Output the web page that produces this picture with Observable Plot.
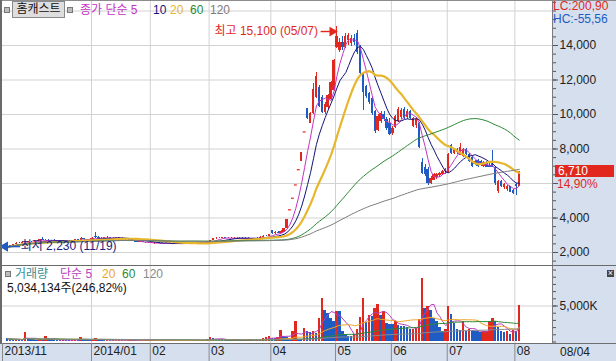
<!DOCTYPE html>
<html><head><meta charset="utf-8">
<script src="https://cdn.jsdelivr.net/npm/d3@7"></script>
<script src="https://cdn.jsdelivr.net/npm/@observablehq/plot@0.6"></script>
<style>
body{margin:0;background:#fff;}
#wrap{position:relative;width:616px;height:361px;overflow:hidden;background:#fff;font-family:"Liberation Sans","Noto Sans CJK KR",sans-serif;font-size:12px;}
.abs{position:absolute;white-space:nowrap;line-height:12px;}
</style></head><body><div id="wrap"></div>
<script>
// ---------- data ----------
const stockName = "홈캐스트";
const monthStarts = [0, 29, 49, 69, 90, 112, 131, 150, 173];
const monthLabels = ["2013/11", "2014/01", "02", "03", "04", "05", "06", "07", "08"];
const hiDate = "05/07", loDate = "11/19", lastDate = "08/04";

const O = [2380,2290,2400,2450,2540,2520,2600,2580,2630,
2610,2660,2640,2740,2720,2700,2680,2700,2690,2660,2640,2660,2650,2630,2700,2740,2720,2800,2740,2760,
2780,2950,2860,2820,2840,2860,2850,2810,2840,2860,2830,2780,2800,2740,2680,2640,2600,2620,2580,2560,
2570,2520,2540,2530,2500,2520,2550,2520,2490,2510,2530,2510,2540,2520,2550,2530,2560,2540,2570,2550,
2600,2680,2800,2840,2820,2850,2830,2840,2820,2830,2810,2840,2820,2830,2810,2800,2830,2810,2880,2940,2920,
3250,3100,3160,3120,3160,3420,4475,5145,5915,6800,7300,8990,10340,9500,10050,11000,11570,10990,10100,10400,10850,11400,
13900,13700,14200,13900,14300,14100,14400,14700,13900,12400,11650,11200,10900,10200,9100,9600,10000,9700,9500,
8900,9250,9600,9800,10300,9800,10200,9300,9350,9500,7220,6900,6800,6000,6200,6350,6450,6550,6700,
6650,8200,7750,7800,7650,7550,7950,7700,7500,7100,7350,7300,7000,7200,7050,7100,6930,5550,6100,5750,5650,5800,5600,5950,5850];
const H = [2400,2420,2480,2560,2600,2620,2640,2650,2660,
2680,2700,2760,2860,2780,2740,2720,2730,2710,2700,2680,2700,2680,2720,2760,2780,2870,2820,2780,2800,
2850,3150,2900,2860,2880,2900,2880,2860,2880,2890,2850,2820,2830,2760,2700,2670,2640,2640,2600,2590,
2590,2560,2570,2550,2540,2560,2570,2540,2530,2540,2560,2550,2570,2560,2580,2570,2590,2580,2600,2620,
2700,2820,2870,2880,2860,2880,2860,2870,2850,2860,2850,2870,2850,2860,2840,2840,2860,2900,2960,3000,3050,
3280,3200,3220,3250,3390,3895,4475,5145,5915,6800,7820,8990,10340,10100,11800,12460,11700,11100,10700,11150,11900,13200,
15100,14400,14500,14700,14700,14600,14650,14880,14000,12450,11700,11250,11000,10250,10000,10150,10200,9800,9770,
9300,9950,10410,10350,10400,10300,10250,9800,9800,9550,7450,7100,6900,6400,6600,6600,6650,6750,6850,
7750,8250,8050,8050,8320,8050,8000,7750,7550,7350,7400,7350,7250,7250,7150,7920,7000,6180,6150,6000,5900,5850,5650,6000,6710];
const L = [2230,2280,2380,2440,2500,2510,2560,2570,2590,
2600,2620,2630,2700,2680,2650,2640,2660,2640,2620,2600,2630,2610,2620,2680,2700,2710,2720,2700,2730,
2760,2840,2800,2780,2800,2820,2790,2790,2800,2820,2760,2740,2720,2660,2600,2580,2570,2560,2540,2530,
2500,2490,2510,2480,2480,2500,2510,2470,2470,2490,2500,2490,2510,2500,2520,2510,2530,2520,2540,2540,
2590,2670,2780,2800,2790,2810,2800,2810,2790,2800,2790,2810,2790,2800,2780,2780,2800,2800,2860,2900,2900,
3050,3050,3080,3100,3140,3400,4475,5145,5915,6800,7250,8990,9700,9450,10000,10950,10400,10050,10000,10300,10800,11350,
13800,13600,13700,13800,14000,13950,14000,13500,12300,10240,10950,10600,9950,8900,9000,9500,9600,9100,8790,
8800,9200,9550,9700,9700,9700,9700,9250,9200,8000,6500,6400,5890,5950,6150,6250,6350,6450,6550,
6600,7700,7700,7700,7600,7500,7600,7200,6930,7050,6950,7000,6950,6900,6900,6900,5890,5400,5750,5650,5550,5450,5350,5300,5800];
const C = [2290,2400,2450,2540,2520,2600,2580,2630,2610,
2660,2640,2740,2720,2700,2680,2700,2690,2660,2640,2660,2650,2630,2700,2740,2720,2800,2740,2760,2780,
2830,2860,2820,2840,2860,2850,2810,2840,2860,2830,2780,2800,2740,2680,2640,2600,2620,2580,2560,2570,
2520,2540,2530,2500,2520,2550,2520,2490,2510,2530,2510,2540,2520,2550,2530,2560,2540,2570,2550,2600,
2680,2800,2840,2820,2850,2830,2840,2820,2830,2810,2840,2820,2830,2810,2800,2830,2810,2880,2940,2920,3020,
3100,3160,3120,3200,3390,3895,4475,5145,5915,6800,7820,8990,9780,10050,11450,12200,10450,10100,10600,11100,11850,13140,
14500,14200,13900,14500,14600,14400,14200,13600,12400,11300,11050,10700,10050,9000,9900,10050,9700,9200,8850,
9200,9900,10300,10250,9800,10200,9750,9750,9700,8100,6600,6500,6000,6300,6500,6550,6600,6700,6800,
7700,7750,8000,7950,8100,7950,7700,7250,7000,7300,7000,7050,7200,6950,6950,6950,6000,6100,5800,5950,5850,5500,5400,5840,6710];
// volume, thousands of shares
const VOL = [450,380,320,360,300,280,1360,320,300,
280,260,340,300,760,420,300,280,260,240,300,270,250,290,340,300,580,300,280,260,
340,500,300,280,260,270,250,240,260,280,240,230,250,270,240,230,220,240,250,230,
220,210,230,240,220,210,200,220,230,210,200,220,240,230,210,220,240,230,250,280,
620,540,400,340,320,300,280,270,290,280,260,250,270,280,260,250,270,300,450,560,800,
500,450,600,1600,700,600,500,1400,2850,400,300,1900,1500,1300,1500,1200,3300,6100,4400,4000,3300,2800,
4200,4200,1500,1000,750,700,1000,1700,3400,6100,2750,3700,3500,4600,5200,3700,4200,2600,2500,
2500,2900,2300,2200,2100,2000,1700,1800,1900,3100,8800,4600,5000,4400,3300,2900,2000,1500,1700,
4900,3800,2600,1700,1600,2900,1500,1700,1600,1500,1400,1300,1400,1500,2900,3200,2900,2000,1500,1300,1500,1100,1600,1451.516,5034.134];

const maPeriods = [5, 10, 20, 60, 120];
const maColors = ["#c435c4", "#14147a", "#e6b62c", "#2b8a35", "#7c7c7c"];
const volMaPeriods = [5, 20, 60, 120];
const volMaColors = ["#b83ec0", "#eea52a", "#2b8a35", "#8a8a8a"];
const priceTicks = [2000, 4000, 6000, 8000, 10000, 12000, 14000];
const priceGrid = [2000, 4000, 6000, 8000, 10000, 12000, 14000, 16000];
const volTicks = [5000];

// ---------- setup ----------
const RED = "#e2281e", BLUE = "#1e5cc4";
const FONT = '"Liberation Sans","Noto Sans CJK KR",sans-serif';
const X_DOMAIN = [-1.77, 185.3];
const fmt = d3.format(",");
const pct = v => v.toFixed(2).replace(".", ",");
const N = C.length;
const candles = d3.range(N).map(i => ({i, open: O[i], high: H[i], low: L[i], close: C[i]}));
const vols = VOL.map((v, i) => ({i, v, up: i > 0 && v > VOL[i - 1]}));
const colorOf = d => d.close >= d.open ? RED : BLUE;
const hiI = d3.maxIndex(H), loI = d3.minIndex(L);
const labelMap = new Map(monthStarts.map((m, j) => [j === 0 ? X_DOMAIN[0] : m - 0.5, monthLabels[j]]));
const monthTicks = [...labelMap.keys()];
const gridX = monthStarts.slice(1).map(m => m - 0.5);

const wrap = document.getElementById("wrap");
function add(html, css) { const e = document.createElement("div"); e.className = "abs"; e.style.cssText = css; e.innerHTML = html; wrap.appendChild(e); return e; }

// backgrounds
add("", "left:552px;top:0;width:64px;height:361px;background:#d5dfee;border-left:1px solid #7a7a7a;");
add("", "left:0;top:343px;width:616px;height:18px;background:#d5dfee;border-top:1px solid #6e6e6e;");

const pricePlot = Plot.plot({
  width: 616, height: 265, marginTop: 0, marginBottom: 0, marginLeft: 2, marginRight: 64,
  x: {domain: X_DOMAIN, axis: null},
  y: {domain: [1246, 16609]},
  style: {background: "transparent", fontFamily: FONT, fontSize: "12px", overflow: "visible"},
  marks: [
    Plot.ruleY(priceGrid, {stroke: "#d2d2d2"}),
    Plot.ruleX(gridX, {stroke: "#d2d2d2"}),
    Plot.ruleX(candles, {x: "i", y1: "low", y2: "high", stroke: colorOf, strokeWidth: 1, shapeRendering: "crispEdges"}),
    Plot.rect(candles, {x1: d => d.i - 0.4, x2: d => d.i + 0.4, y1: "open", y2: "close", fill: colorOf, shapeRendering: "crispEdges"}),
    Plot.ruleY(candles.filter(d => d.open === d.close), {y: "close", x1: d => d.i - 0.5, x2: d => d.i + 0.5, stroke: colorOf, strokeWidth: 1.2}),
    ...maPeriods.map((k, j) => Plot.lineY(candles, Plot.windowY({k, anchor: "end"}, {x: "i", y: "close", stroke: maColors[j], strokeWidth: k === 20 ? 2.2 : 1}))),
    // high annotation
    Plot.text([hiI], {x: d => d, y: d => H[d], text: d => `최고 ${fmt(H[d])} (${hiDate})`, textAnchor: "end", dx: -19, dy: 5, fill: RED, fontSize: 12}),
    Plot.ruleY([hiI], {x1: d => d - 5.4, x2: d => d - 1.8, y: d => H[d], dy: 5, stroke: RED, strokeWidth: 1.4}),
    Plot.dot([hiI], {x: d => d - 1.6, y: d => H[d], dy: 5, symbol: "triangle", rotate: 90, r: 3.6, fill: RED, stroke: "none"}),
    // low annotation
    Plot.ruleY([loI], {x1: d => d - 0.6, x2: d => d + 4.4, y: d => L[d], dy: -2, stroke: BLUE, strokeWidth: 1.6}),
    Plot.dot([loI], {x: d => d - 0.9, y: d => L[d], dy: -2, symbol: "triangle", rotate: -90, r: 3.8, fill: BLUE, stroke: "none"}),
    Plot.text([loI], {x: d => d, y: d => L[d], text: d => `최저 ${fmt(L[d])} (${loDate})`, textAnchor: "start", dx: 13, dy: -2, fill: "#1a237e", fontSize: 12}),
    // right axis
    Plot.axisY({anchor: "right", label: null, ticks: d3.range(1500, 16601, 500), tickSize: 3, tickFormat: () => "", stroke: "#555"}),
    Plot.axisY({anchor: "right", label: null, ticks: priceTicks, tickSize: 5, tickPadding: 2, tickFormat: d => d === 6000 ? "" : fmt(d), stroke: "#555", fill: "#222", fontSize: 12})
  ]
});
pricePlot.style.position = "absolute"; pricePlot.style.left = "0"; pricePlot.style.top = "0";
wrap.appendChild(pricePlot);

const volPlot = Plot.plot({
  width: 616, height: 96, marginTop: 0, marginBottom: 18, marginLeft: 2, marginRight: 64,
  x: {domain: X_DOMAIN},
  y: {domain: [-210, 10630]},
  style: {background: "transparent", fontFamily: FONT, fontSize: "12px", overflow: "visible"},
  marks: [
    Plot.ruleY(volTicks, {stroke: "#d2d2d2"}),
    Plot.ruleX(gridX, {stroke: "#d2d2d2"}),
    Plot.rect(vols, {x1: d => d.i - 0.42, x2: d => d.i + 0.42, y1: 0, y2: "v", fill: d => d.up ? RED : BLUE, shapeRendering: "crispEdges"}),
    ...volMaPeriods.map((k, j) => Plot.lineY(vols, Plot.windowY({k, anchor: "end"}, {x: "i", y: "v", stroke: volMaColors[j], strokeWidth: 1}))),
    Plot.axisY({anchor: "right", label: null, ticks: d3.range(0, 10001, 1000), tickSize: 3, tickFormat: () => "", stroke: "#555"}),
    Plot.axisY({anchor: "right", label: null, ticks: volTicks, tickSize: 5, tickPadding: 2, tickFormat: d => fmt(d) + "K", stroke: "#555", fill: "#222", fontSize: 12}),
    Plot.axisX(monthTicks, {label: null, tickSize: 18, tickFormat: () => "", stroke: "#8a8a8a"}),
    Plot.axisX(monthTicks, {label: null, tickSize: 0, tickPadding: 3, textAnchor: "start", dx: 2, tickFormat: d => labelMap.get(d), fill: "#222", fontSize: 12})
  ]
});
volPlot.style.position = "absolute"; volPlot.style.left = "0"; volPlot.style.top = "265px";
wrap.appendChild(volPlot);

// borders
add("", "left:0;top:0;width:616px;height:1px;background:#8c8c8c;");
add("", "left:0;top:0;width:2px;height:343px;background:#6a6a6a;");
add("", "left:0;top:265px;width:616px;height:1px;background:#6a6a6a;");

// top legend
add("", "left:4px;top:7px;width:4px;height:4px;background:#bdbdbd;border:1px solid #777;");
add(stockName, "left:12px;top:1px;width:51px;height:15px;line-height:15px;text-align:center;background:#dedede;border:1px solid #8a8a8a;color:#111;");
add("", "left:67px;top:7px;width:4px;height:4px;background:#bdbdbd;border:1px solid #777;");
const legX = [80, 153, 170, 190, 210];
maPeriods.forEach((k, j) => add(j === 0 ? `종가 단순 ${k}` : `${k}`, `left:${legX[j]}px;top:4px;color:${maColors[j]};`));

// volume legend
add("", "left:5px;top:271px;width:4px;height:4px;background:#bdbdbd;border:1px solid #777;");
add("거래량", "left:15px;top:268px;color:#3a8e93;");
const vlegX = [60, 102, 122, 143];
volMaPeriods.forEach((k, j) => add(j === 0 ? `단순 ${k}` : `${k}`, `left:${vlegX[j]}px;top:268px;color:${volMaColors[j]};`));
const lastVol = VOL[N - 1], prevVol = VOL[N - 2];
add(`${fmt(Math.round(lastVol * 1000))}주(${pct((lastVol / prevVol - 1) * 100)}%)`, "left:7px;top:282px;color:#111;");

// right panel labels
const last = C[N - 1], prev = C[N - 2];
add(`LC:${pct((last / d3.min(L) - 1) * 100)}`, `left:553px;top:0px;color:${RED};`);
add(`HC:${pct((last / d3.max(H) - 1) * 100)}`, `left:553px;top:13px;color:${BLUE};`);
const yLast = pricePlot.scale("y").apply(last);
add(fmt(last), `left:555px;top:${yLast - 6}px;width:56px;height:12px;padding-left:3px;background:${RED};color:#fff;`);
add(`${pct((last / prev - 1) * 100)}%`, `left:557px;top:${yLast + 7}px;color:${RED};`);
add(lastDate, "left:560px;top:346px;color:#222;");
add("×", "left:607px;top:270px;width:7px;height:7px;line-height:7px;font-size:9px;text-align:center;background:#444;color:#fff;");
</script></body></html>
